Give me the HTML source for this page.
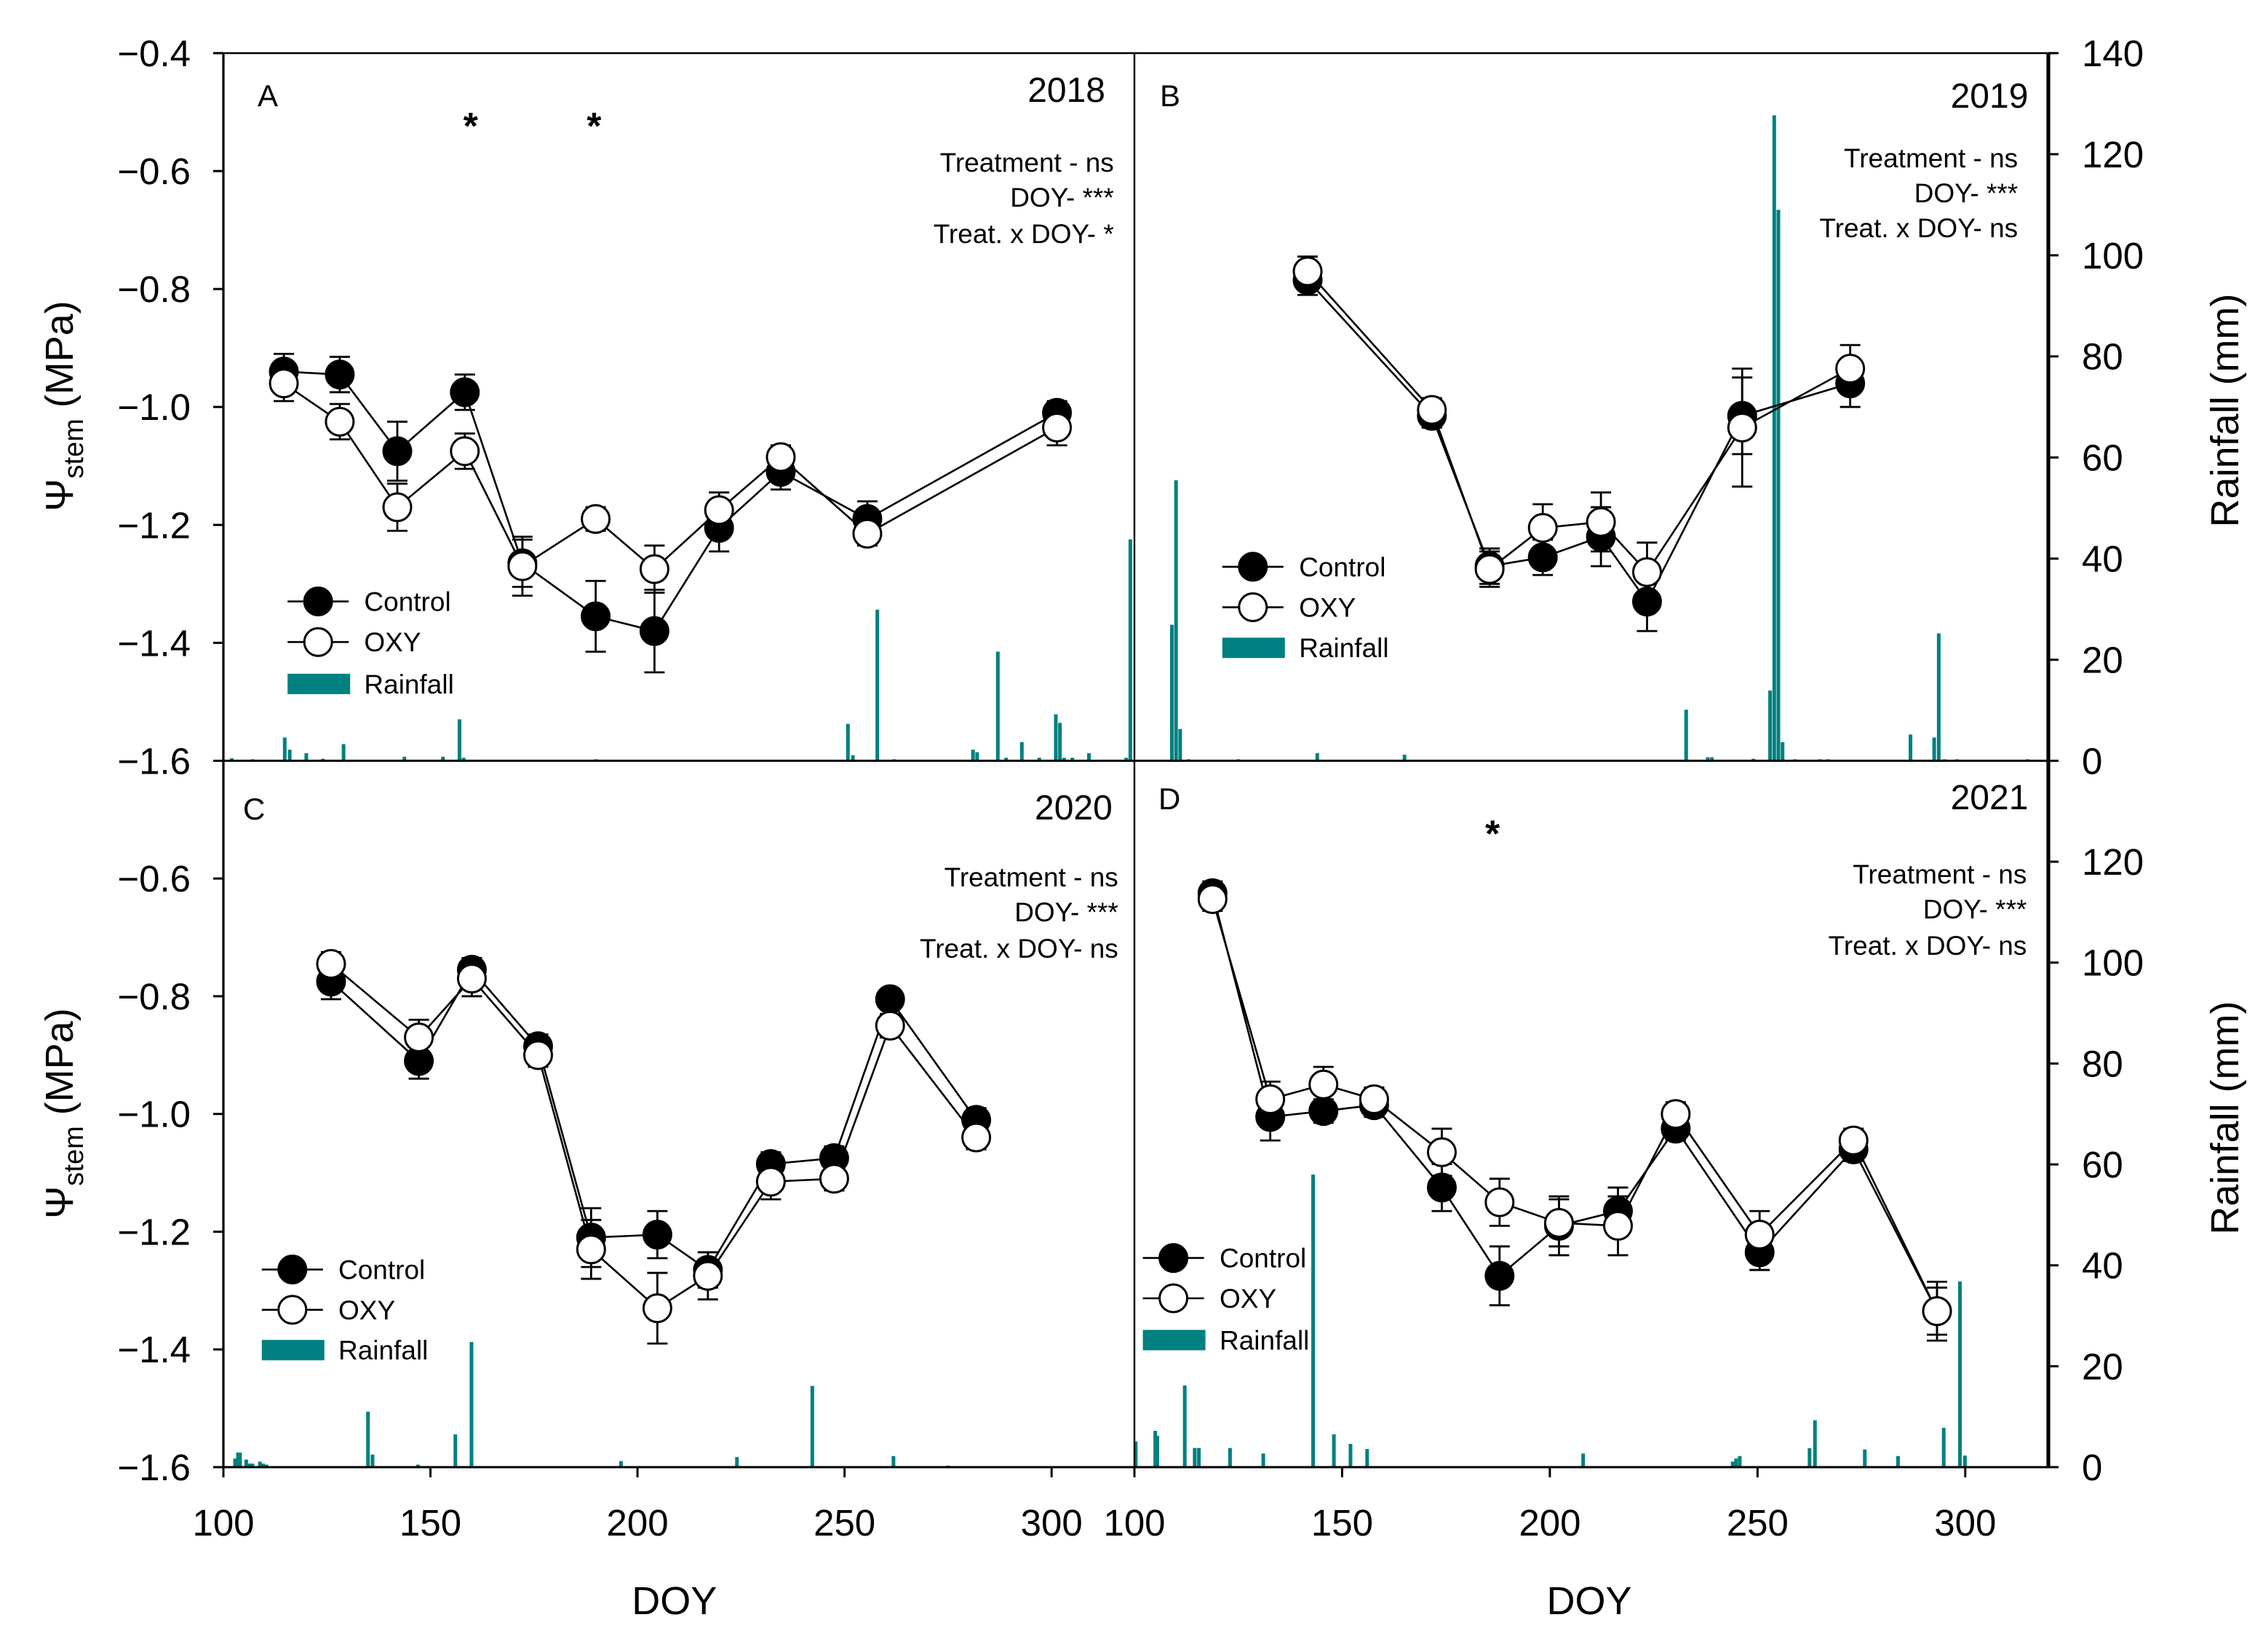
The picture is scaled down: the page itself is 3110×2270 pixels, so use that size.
<!DOCTYPE html>
<html><head><meta charset="utf-8">
<style>
html,body{margin:0;padding:0;background:#fff;}
svg{display:block;font-family:"Liberation Sans",Arial,sans-serif;}
</style></head>
<body>
<svg id="chart" xmlns="http://www.w3.org/2000/svg" width="3110" height="2270" viewBox="0 0 1555 1135">
<rect x="0" y="0" width="1555" height="1135" fill="#fff"/>
<g id="layer"></g>
</svg>
<script>
// ---- Panel A (2018) ----
const aDoy = [114.6,128.1,142,158.3,172.2,189.9,204.1,219.7,234.6,255.5,301.3];
const aCtrl = [-0.94,-0.945,-1.075,-0.975,-1.265,-1.355,-1.38,-1.205,-1.11,-1.19,-1.01];
const aCtrlErr = [0.03,0.03,0.05,0.03,0.04,0.06,0.07,0.04,0.03,0.03,0.02];
const aOxy = [-0.96,-1.025,-1.17,-1.075,-1.27,-1.19,-1.275,-1.175,-1.085,-1.215,-1.035];
const aOxyErr = [0.03,0.03,0.04,0.03,0.05,0.02,0.04,0.03,0.02,0.02,0.03];
const aRainDoy = [102,107,114.8,116,120,124,129,143.7,153,157,158,190,231,250.8,252,257.9,262,281,282,287,289,292.8,297,301,302,303,305,309,318,319];
const aRainMm = [0.5,0.3,4.6,2.2,1.5,0.4,3.3,0.8,0.8,8.2,0.6,0.3,0.2,7.3,1.1,29.9,0.3,2.2,1.7,21.6,0.6,3.7,0.6,9.2,7.5,0.6,0.6,1.5,0.6,43.8];
const aStarDoy = [159.7,189.5];

// ---- Panel B (2019) ----
const bDoy = [141.7,171.6,185.5,198.3,212.3,223.4,246.3,272.3];
const bCtrl = [-0.785,-1.015,-1.27,-1.255,-1.22,-1.33,-1.015,-0.96];
const bCtrlErr = [0.025,0.02,0.03,0.03,0.05,0.05,0.065,0.04];
const bOxy = [-0.77,-1.005,-1.275,-1.205,-1.195,-1.28,-1.035,-0.935];
const bOxyErr = [0.025,0.02,0.03,0.04,0.05,0.05,0.1,0.04];
const bRainDoy = [109,110,111,113,125,144,165,232.8,238,239,249,253,254,255,256,259,265,267,286.8,292.5,293.6,295,298,315];
const bRainMm = [26.9,55.5,6.3,0.3,0.3,1.5,1.2,10.1,0.7,0.7,0.4,13.9,127.7,109,3.7,0.3,0.3,0.3,5.2,4.6,25.2,0.3,0.3,0.3];
const bStarDoy = [];

// ---- Panel C (2020) ----
const cDoy = [126,147.2,160,176,188.8,204.8,217,232.2,247.5,261,281.8];
const cCtrl = [-0.775,-0.91,-0.755,-0.885,-1.21,-1.205,-1.265,-1.085,-1.075,-0.805,-1.01];
const cCtrlErr = [0.03,0.03,0.02,0.02,0.05,0.04,0.03,0.02,0.02,0.01,0.02];
const cOxy = [-0.745,-0.87,-0.77,-0.9,-1.23,-1.33,-1.275,-1.115,-1.11,-0.85,-1.04];
const cOxyErr = [0.02,0.03,0.03,0.02,0.05,0.06,0.04,0.03,0.02,0.02,0.02];
const cRainDoy = [102.8,103.5,104,105.5,106.3,107,108.8,109.6,110.4,112,134.9,136,147,156,159.9,196,197,224,242.2,261.8,263,275];
const cRainMm = [1.7,2.9,2.9,1.5,0.7,0.7,1.1,0.7,0.5,0.2,11,2.5,0.5,6.5,24.8,1.2,0.2,2.0,16.1,2.2,0.2,0.3];
const cStarDoy = [];

// ---- Panel D (2021) ----
const dDoy = [118.8,132.7,145.5,157.7,174,187.9,202.2,216.4,230.3,250.5,273.1,293.2];
const dCtrl = [-0.625,-1.005,-0.995,-0.985,-1.125,-1.275,-1.19,-1.165,-1.025,-1.235,-1.06,-1.335];
const dCtrlErr = [0.02,0.04,0.02,0.02,0.04,0.05,0.05,0.04,0.02,0.03,0.02,0.05];
const dOxy = [-0.635,-0.975,-0.95,-0.975,-1.065,-1.15,-1.185,-1.19,-1.0,-1.205,-1.045,-1.335];
const dOxyErr = [0.02,0.03,0.03,0.02,0.04,0.04,0.04,0.05,0.02,0.04,0.02,0.04];
const dRainDoy = [100.3,105,105.5,112.1,114.5,115.5,123,131,143,148,152,156,208,244,244.8,245.7,262.5,263.8,275.8,283.8,294.8,298.7,299.9];
const dRainMm = [5.1,7.2,6.2,16.2,3.8,3.8,3.8,2.7,58,6.5,4.6,3.6,2.7,1.1,1.7,2.2,3.75,9.3,3.5,2.2,7.8,36.8,2.3];
const dStarDoy = [186.2];

// tick label arrays
const psiTicksTop = [-0.4,-0.6,-0.8,-1.0,-1.2,-1.4,-1.6];
const psiTicksBottom = [-0.6,-0.8,-1.0,-1.2,-1.4,-1.6];
const rainTicksTop = [0,20,40,60,80,100,120,140];
const rainTicksBottom = [0,20,40,60,80,100,120];
const doyTicks = [100,150,200,250,300];

const NS = "http://www.w3.org/2000/svg";
const layer = document.getElementById('layer');
const TEAL = "#008080";
function mk(tag, attrs, parent){
  const e = document.createElementNS(NS, tag);
  for (const k in attrs) e.setAttribute(k, attrs[k]);
  (parent||layer).appendChild(e);
  return e;
}
function fmt(v){ return (v<0?"\u2212":"") + Math.abs(v).toFixed(1); }

const panels = [
  {id:'a', letter:'A', year:'2018', x0:153.5, x1:779.5, y0:36.5, y1:522.7, doy:aDoy, ctrl:aCtrl, ce:aCtrlErr, oxy:aOxy, oe:aOxyErr, rd:aRainDoy, rm:aRainMm, stars:aStarDoy,
   stats:['Treatment - ns','DOY- ***','Treat. x DOY- *'], statX:765.4, statY:[112,136,161], yearPos:[759.5,70], letterPos:[177,73], leg:[218.6,413.2,441.1,469.9,250.2]},
  {id:'b', letter:'B', year:'2019', x0:779.5, x1:1407.5, y0:36.5, y1:522.7, doy:bDoy, ctrl:bCtrl, ce:bCtrlErr, oxy:bOxy, oe:bOxyErr, rd:bRainDoy, rm:bRainMm, stars:bStarDoy,
   stats:['Treatment - ns','DOY- ***','Treat. x DOY- ns'], statX:1386.6, statY:[109,133,157], yearPos:[1393.7,74], letterPos:[797,73], leg:[860.9,389.4,417.2,445.1,892.6]},
  {id:'c', letter:'C', year:'2020', x0:153.5, x1:779.5, y0:522.7, y1:1008, doy:cDoy, ctrl:cCtrl, ce:cCtrlErr, oxy:cOxy, oe:cOxyErr, rd:cRainDoy, rm:cRainMm, stars:cStarDoy,
   stats:['Treatment - ns','DOY- ***','Treat. x DOY- ns'], statX:768.4, statY:[603,627,652], yearPos:[764.4,563], letterPos:[167,563], leg:[200.9,872.2,899.9,927.6,232.5]},
  {id:'d', letter:'D', year:'2021', x0:779.5, x1:1407.5, y0:522.7, y1:1008, doy:dDoy, ctrl:dCtrl, ce:dCtrlErr, oxy:dOxy, oe:dOxyErr, rd:dRainDoy, rm:dRainMm, stars:dStarDoy,
   stats:['Treatment - ns','DOY- ***','Treat. x DOY- ns'], statX:1392.7, statY:[601,625,650], yearPos:[1393.7,556], letterPos:[796,556], leg:[806.3,864.3,892,920.7,838]}
];

panels.forEach((p, pi) => {
  const g = mk('g', {});
  
  
  const X = d => p.x0 + (d-100)/220*(p.x1-p.x0);
  const Y = v => p.y0 + (-0.4 - v)/1.2*(p.y1-p.y0);
  const R = r => p.y1 - r/140*(p.y1-p.y0);

  const rg = mk('g', {}, g);
  
  
  p.rd.forEach((d, i) => {
    const top = R(p.rm[i]);
    const b = mk('rect', {x: X(d)-1.2, y: top, width: 2.5, height: Math.max(0.6, p.y1-top), fill: TEAL}, rg);
    
    
  });

  const series = [
    {name:'control', v:p.ctrl, e:p.ce, fill:'#000'},
    {name:'oxy', v:p.oxy, e:p.oe, fill:'#fff'}
  ];
  series.forEach(s => {
    const pts = p.doy.map((d,i)=>X(d).toFixed(2)+','+Y(s.v[i]).toFixed(2)).join(' ');
    const l = mk('polyline', {points:pts, fill:'none', stroke:'#000', 'stroke-width':1.3}, g);
    
    
  });
  series.forEach(s => {
    p.doy.forEach((d,i) => {
      const cx = X(d), yt = Y(s.v[i]+s.e[i]), yb = Y(s.v[i]-s.e[i]);
      const eb = mk('path', {d:`M${cx},${yt}V${yb}M${cx-7},${yt}H${cx+7}M${cx-7},${yb}H${cx+7}`, stroke:'#000', 'stroke-width':1.4, fill:'none'}, g);
      
      
    });
  });
  series.forEach(s => {
    p.doy.forEach((d,i) => {
      const c = mk('circle', {cx:X(d), cy:Y(s.v[i]), r:9.5, fill:s.fill, stroke:'#000', 'stroke-width':1.5}, g);
      
      
    });
  });

  p.stars.forEach(d => {
    const t = mk('text', {x:X(d), y:p.y0+59, 'font-size':26, 'font-weight':'bold', 'text-anchor':'middle'}, g);
    t.textContent = '*';
    
    
  });

  const top = pi < 2;
  const left = pi % 2 === 0;
  const ax = mk('g', {stroke:'#000', fill:'none'}, g);
  
  
  if (top) mk('line', {x1:p.x0, y1:p.y0, x2:p.x1 + (left?0:7), y2:p.y0, 'stroke-width':1.3}, ax);
  mk('line', {x1:p.x0, y1:p.y1, x2:p.x1, y2:p.y1, 'stroke-width':1.5}, ax);
  mk('line', {x1:p.x0, y1:p.y0, x2:p.x0, y2:p.y1, 'stroke-width':left?1.6:1.2}, ax);
  if (!left) mk('line', {x1:p.x1, y1:p.y0, x2:p.x1, y2:p.y1, 'stroke-width':2.6}, ax);

  if (left) {
    const ticks = top ? psiTicksTop : psiTicksBottom;
    ticks.forEach(v => {
      mk('line', {x1:p.x0-7, y1:Y(v), x2:p.x0, y2:Y(v), 'stroke-width':1.5}, ax);
      const t = mk('text', {x:131, y:Y(v)+9, 'font-size':25.5, 'text-anchor':'end', fill:'#000', stroke:'none'}, g);
      t.textContent = fmt(v);
      
      
    });
  } else {
    const ticks = top ? rainTicksTop : rainTicksBottom;
    ticks.forEach(r => {
      mk('line', {x1:p.x1, y1:R(r), x2:p.x1+7, y2:R(r), 'stroke-width':1.5}, ax);
      const t = mk('text', {x:1430.5, y:R(r)+9, 'font-size':25.5, 'text-anchor':'start', fill:'#000', stroke:'none'}, g);
      t.textContent = String(r);
      
      
    });
  }
  if (!top) {
    doyTicks.forEach(d => {
      mk('line', {x1:X(d), y1:p.y1, x2:X(d), y2:p.y1+7, 'stroke-width':1.5}, ax);
      const t = mk('text', {x:X(d), y:1055, 'font-size':25.5, 'text-anchor':'middle', fill:'#000', stroke:'none'}, g);
      t.textContent = String(d);
      
      
    });
  }

  const lt = mk('text', {x:p.letterPos[0], y:p.letterPos[1], 'font-size':21}, g);
  lt.textContent = p.letter;
  
  
  const yt = mk('text', {x:p.yearPos[0], y:p.yearPos[1], 'font-size':24, 'text-anchor':'end'}, g);
  yt.textContent = p.year;
  
  
  p.stats.forEach((s,i) => {
    const st = mk('text', {x:p.statX, y:p.statY[i]+6, 'font-size':18.5, 'text-anchor':'end'}, g);
    st.textContent = s;
    
    
  });

  const lg = mk('g', {}, g);
  
  
  const [lx, r1, r2, r3, tx] = p.leg;
  [[r1,'#000','Control'],[r2,'#fff','OXY']].forEach(([ry,fill,label]) => {
    mk('line', {x1:lx-21, y1:ry, x2:lx+21, y2:ry, stroke:'#000', 'stroke-width':1.3}, lg);
    const c = mk('circle', {cx:lx, cy:ry, r:9.5, fill:fill, stroke:'#000', 'stroke-width':1.5}, lg);
    
    
    const t = mk('text', {x:tx, y:ry+6.5, 'font-size':18.5}, lg);
    t.textContent = label;
    
    
  });
  const rr = mk('rect', {x:lx-21, y:r3-7, width:43, height:14, fill:TEAL}, lg);
  
  
  const rt = mk('text', {x:tx, y:r3+6.5, 'font-size':18.5}, lg);
  rt.textContent = 'Rainfall';
  
  
});

[[279],[765]].forEach(([cy]) => {
  const t = mk('text', {transform:`translate(50,${cy}) rotate(-90)`, 'font-size':27, 'text-anchor':'middle'});
  
  
  const a = document.createElementNS(NS,'tspan'); a.textContent = '\u03A8'; t.appendChild(a);
  const b = document.createElementNS(NS,'tspan'); b.setAttribute('font-size','19'); b.setAttribute('dy','7'); b.textContent = 'stem'; t.appendChild(b);
  const c = document.createElementNS(NS,'tspan'); c.setAttribute('dy','-7'); c.textContent = ' (MPa)'; t.appendChild(c);
});
[[282],[768]].forEach(([cy]) => {
  const t = mk('text', {transform:`translate(1538,${cy}) rotate(-90)`, 'font-size':27, 'text-anchor':'middle'});
  t.textContent = 'Rainfall (mm)';
  
  
});
[463.4, 1092].forEach(cx => {
  const t = mk('text', {x:cx, y:1109, 'font-size':27, 'text-anchor':'middle'});
  t.textContent = 'DOY';
  
  
});
</script>
</body></html>
